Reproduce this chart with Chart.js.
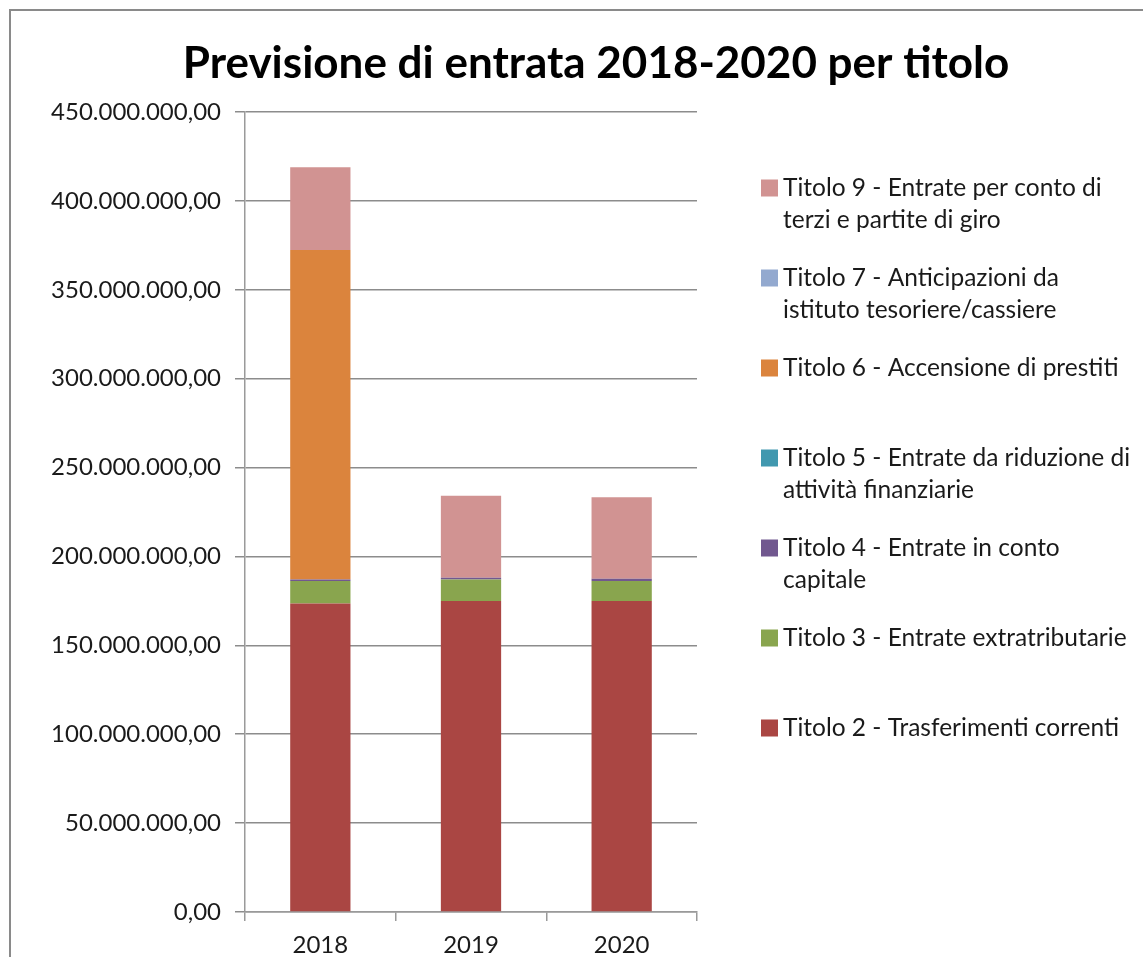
<!DOCTYPE html>
<html>
<head>
    <title>Previsione di entrata 2018-2020 per titolo</title>
    <script src="https://cdn.jsdelivr.net/npm/chart.js"></script>
    <style>
        body { margin: 0; background: #fff; overflow: hidden; }
    </style>
</head>
<body>

<canvas id="entrateChart" width="1143" height="957"></canvas>

<script>
    // anni (categorie)
    const anni = ['2018', '2019', '2020'];

    // valori, in euro
    const titolo2 = [173600000, 174900000, 174900000];
    const titolo3 = [12600000, 12100000, 11300000];
    const titolo4 = [800000, 1000000, 1300000];
    const titolo5 = [0, 0, 0];
    const titolo6 = [185400000, 0, 0];
    const titolo7 = [0, 0, 0];
    const titolo9 = [46500000, 46200000, 45800000];

    // etichette legenda (righe come nell'originale)
    const nomiTitoli = [
        ['Titolo 2 - Trasferimenti correnti', ''],
        ['Titolo 3 - Entrate extratributarie', ''],
        ['Titolo 4 - Entrate in conto', 'capitale'],
        ['Titolo 5 - Entrate da riduzione di', 'attività finanziarie'],
        ['Titolo 6 - Accensione di prestiti', ''],
        ['Titolo 7 - Anticipazioni da', 'istituto tesoriere/cassiere'],
        ['Titolo 9 - Entrate per conto di', 'terzi e partite di giro']
    ];

    const colori = ['#AA4643', '#89A54E', '#71588F', '#4198AF', '#DB843D', '#93A9CF', '#D19392'];

    // tick asse y
    const yMin = 0;
    const yMax = 450000000;
    const yStep = 50000000;

    const serie = [titolo2, titolo3, titolo4, titolo5, titolo6, titolo7, titolo9];

    function formatoItaliano(v) {
        const intero = Math.round(v).toString().replace(/\B(?=(\d{3})+(?!\d))/g, '.');
        return intero + ',00';
    }

    const FONT = 'Lato, "Open Sans", sans-serif';

    // bordo del grafico + legenda disegnata a mano (testo su due righe)
    const excelLook = {
        id: 'excelLook',
        beforeDraw(chart) {
            const ctx = chart.ctx;
            ctx.save();
            ctx.fillStyle = '#fff';
            ctx.fillRect(0, 0, chart.width, chart.height);
            ctx.strokeStyle = '#8a8a8a';
            ctx.lineWidth = 2;
            ctx.strokeRect(10, 10, chart.width + 50, chart.height + 50);
            ctx.restore();
        },
        afterDraw(chart) {
            const ctx = chart.ctx;
            const area = chart.chartArea;
            const x0 = area.right + 64;
            const y0 = area.top + 76;
            ctx.save();
            ctx.font = '24.5px ' + FONT;
            ctx.textBaseline = 'middle';
            ctx.textAlign = 'left';
            // dall'alto verso il basso: ordine inverso delle serie
            const n = chart.data.datasets.length;
            for (let k = 0; k < n; k++) {
                const ds = chart.data.datasets[n - 1 - k];
                const y = y0 + k * 90;
                ctx.fillStyle = ds.backgroundColor;
                ctx.fillRect(x0, y - 8.5, 17, 17);
                ctx.fillStyle = '#1a1a1a';
                ds.righe.forEach((r, j) => {
                    if (r) ctx.fillText(r, x0 + 22, y + j * 32);
                });
            }
            ctx.restore();
        }
    };

    const ctx = document.getElementById('entrateChart').getContext('2d');
    const chart = new Chart(ctx, {
        type: 'bar',
        data: {
            labels: anni,
            datasets: serie.map((dati, i) => ({
                label: nomiTitoli[i].join(' ').trim(),
                righe: nomiTitoli[i],
                data: dati,
                backgroundColor: colori[i],
                borderWidth: 0,
                categoryPercentage: 1,
                barPercentage: 0.4,
                yAxisID: 'y'
            }))
        },
        options: {
            responsive: false,
            animation: false,
            layout: {
                padding: { left: 49, right: 0, top: 12, bottom: 0 }
            },
            plugins: {
                legend: { display: false },
                tooltip: { enabled: false },
                title: {
                    display: true,
                    text: 'Previsione di entrata 2018-2020 per titolo',
                    color: '#000',
                    font: { family: FONT, size: 44, weight: 'bold' },
                    padding: { top: 25.6, bottom: 21.6 }
                }
            },
            scales: {
                x: {
                    stacked: true,
                    grid: {
                        offset: true,
                        drawOnChartArea: false,
                        drawTicks: true,
                        tickLength: 9,
                        color: '#9a9a9a',
                        lineWidth: 1.5
                    },
                    border: { display: true, color: '#9a9a9a', width: 1.5 },
                    ticks: {
                        color: '#1a1a1a',
                        padding: 10,
                        font: { family: FONT, size: 24 }
                    },
                    afterFit: s => { s.height = 45; }
                },
                y: {
                    stacked: true,
                    min: yMin,
                    max: yMax,
                    grid: {
                        color: '#8c8c8c',
                        lineWidth: 1.5,
                        drawTicks: true,
                        tickLength: 10
                    },
                    border: { display: true, color: '#9a9a9a', width: 1.5 },
                    ticks: {
                        stepSize: yStep,
                        color: '#1a1a1a',
                        padding: 14,
                        font: { family: FONT, size: 24 },
                        callback: v => formatoItaliano(v)
                    },
                    afterFit: s => { s.width = 245 - 49; }
                },
                spazioLegenda: {
                    type: 'linear',
                    position: 'right',
                    display: true,
                    grid: { display: false },
                    border: { display: false },
                    ticks: { display: false },
                    afterFit: s => { s.width = 1143 - 697; }
                }
            }
        },
        plugins: [excelLook]
    });
</script>

</body>
</html>
